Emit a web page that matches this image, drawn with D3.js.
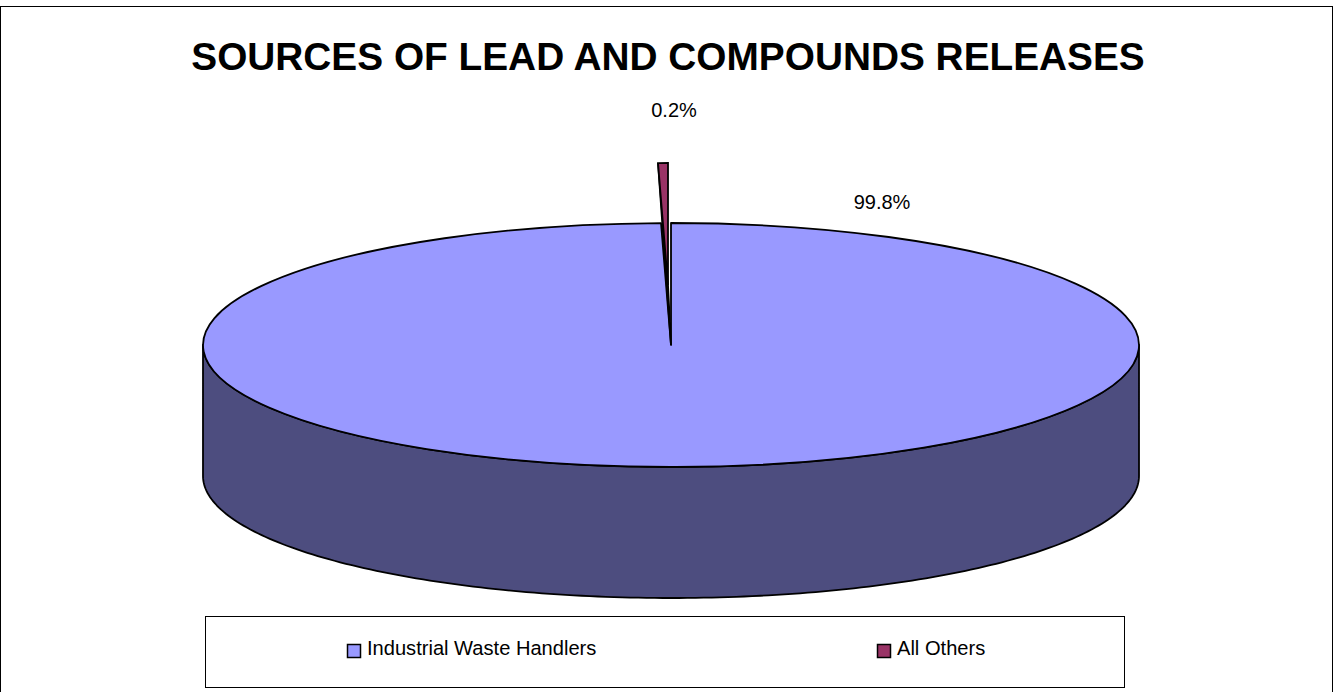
<!DOCTYPE html>
<html><head><meta charset="utf-8">
<script src="https://cdn.jsdelivr.net/npm/d3@7"></script>
<style>html,body{margin:0;padding:0;background:#fff}svg{display:block}text{font-family:"Liberation Sans",Arial,sans-serif;fill:#000}</style>
</head><body><svg id="c" width="1335" height="692"></svg>
<script>
const titleText = "SOURCES OF LEAD AND COMPOUNDS RELEASES";
const categories = ["Industrial Waste Handlers", "All Others"];
const values = [99.8, 0.2];
const valueLabels = ["99.8%", "0.2%"];
const colors = ["#9999FF", "#993366"];
const sideColor = "#4D4D7F", sideColorMinor = "#4D1933";

const W = 1335, H = 692;
const cx = 671, cy = 345, rx = 468, ry = 122, depth = 131;
const explodeX = -3, explodeY = -60;
const minorWiden = 1.7; // the projected 3D pie draws the thin slice wider than its share
const strokeW = 1.8;
const svg = d3.select("#c");

svg.append("rect").attr("x", 0.5).attr("y", 6.5).attr("width", 1332).attr("height", 700)
  .attr("fill", "#fff").attr("stroke", "#000").attr("stroke-width", 1);

svg.append("text").attr("x", 668).attr("y", 70).attr("text-anchor", "middle")
  .attr("font-size", 38.8).attr("font-weight", "bold").text(titleText);

const minorAngle = values[1] / d3.sum(values) * 2 * Math.PI * minorWiden;
const angle = d3.scaleLinear().domain([0, values[0]]).range([0, 2 * Math.PI - minorAngle]);
const px = d3.scaleLinear().domain([-1, 1]).range([cx - rx, cx + rx]);
const py = d3.scaleLinear().domain([-1, 1]).range([cy - ry, cy + ry]);
const rim = a => [px(Math.sin(a)), py(-Math.cos(a))];
const start = 0, end = angle(values[0]), wStart = end, wEnd = 2 * Math.PI;

// extruded wall of the main slice
const lowerArc = d3.range(Math.PI / 2, 3 * Math.PI / 2 + 1e-9, Math.PI / 180).map(rim);
const wall = lowerArc.concat(lowerArc.slice().reverse().map(p => [p[0], p[1] + depth]));
const line = d3.line();
svg.append("path").attr("d", line(wall) + "Z").attr("fill", sideColor)
  .attr("stroke", "#000").attr("stroke-width", strokeW).attr("stroke-linejoin", "round");

// top faces built with d3.arc, flattened to an ellipse
const arc = d3.arc().innerRadius(0).outerRadius(rx);
const flat = `translate(${cx},${cy}) scale(1,${ry / rx})`;
const pieTop = svg.append("g").attr("transform", flat);
pieTop.append("path").attr("d", arc({startAngle: start, endAngle: end}))
  .attr("fill", colors[0]).attr("stroke", "#000").attr("stroke-width", strokeW)
  .attr("stroke-linejoin", "round").attr("vector-effect", "non-scaling-stroke");

// exploded thin slice: inner wall then top
const wA = rim(wStart), apex = [cx, cy];
const shift = p => [p[0] + explodeX, p[1] + explodeY];
svg.append("path").attr("d", line([shift(wA), shift(apex), apex]) + "Z")
  .attr("fill", sideColorMinor).attr("stroke", "#000").attr("stroke-width", strokeW);
svg.append("g").attr("transform", `translate(${cx + explodeX},${cy + explodeY}) scale(1,${ry / rx})`)
  .append("path").attr("d", arc({startAngle: wStart, endAngle: wEnd}))
  .attr("fill", colors[1]).attr("stroke", "#000").attr("stroke-width", strokeW)
  .attr("vector-effect", "non-scaling-stroke");

// data labels
const labelPos = [[882, 209], [674, 117]];
valueLabels.forEach((t, i) => svg.append("text").attr("x", labelPos[i][0]).attr("y", labelPos[i][1])
  .attr("text-anchor", "middle").attr("font-size", 20).text(t));

// legend
svg.append("rect").attr("x", 205.5).attr("y", 616.5).attr("width", 919).attr("height", 71)
  .attr("fill", "#fff").attr("stroke", "#000");
const legendX = [347, 877];
categories.forEach((c, i) => {
  svg.append("rect").attr("x", legendX[i] + .5).attr("y", 644.5).attr("width", 13).attr("height", 13)
    .attr("fill", colors[i]).attr("stroke", "#000").attr("stroke-width", 1.5);
  svg.append("text").attr("x", legendX[i] + 20).attr("y", 655).attr("font-size", 20.1).text(c);
});
</script></body></html>
